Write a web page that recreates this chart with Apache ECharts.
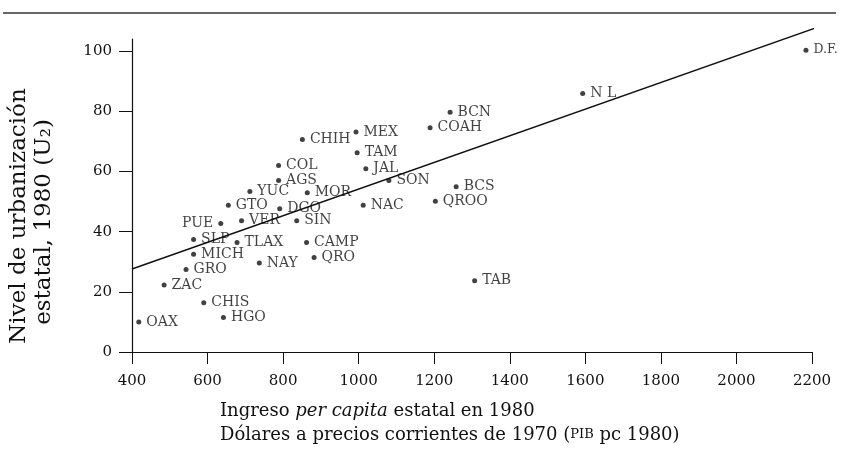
<!DOCTYPE html>
<html>
<head>
<meta charset="utf-8">
<script src="https://cdn.jsdelivr.net/npm/echarts@6/dist/echarts.min.js"></script>
<style>html,body{margin:0;padding:0;background:#fff;}#c{width:846px;height:464px;}</style>
</head>
<body>
<div id="c"></div>
<script>
var states = ['OAX','ZAC','CHIS','HGO','GRO','MICH','SLP','PUE','TLAX','VER','GTO','YUC','DGO','AGS','COL','MOR','SIN','NAY','CAMP','QRO','CHIH','MEX','TAM','JAL','SON','NAC','BCN','COAH','BCS','QROO','TAB','N L','D.F.'];
var income = [418,485,590,642,543,563,563,635,678,690,655,712,791,788,788,864,836,737,862,882,851,993,996,1019,1080,1012,1242,1189,1258,1203,1307,1593,2184];
var urban  = [10.0,22.3,16.4,11.5,27.4,32.5,37.4,42.7,36.4,43.6,48.8,53.3,47.6,57.0,62.0,52.9,43.6,29.6,36.4,31.4,70.6,73.1,66.2,60.9,57.0,48.8,79.7,74.5,54.9,50.1,23.7,85.9,100.3];
var trendX = [400, 2208];
var trendY = [27.6, 107.6];
var xTicks = [400,600,800,1000,1200,1400,1600,1800,2000,2200];
var yTicks = [0,20,40,60,80,100];

var FONT = 'DejaVu Serif';
var INK = '#111';

var scatterData = states.map(function (s, i) {
  var item = { name: s, value: [income[i], urban[i]] };
  if (s === 'D.F.') item.label = { fontSize: 12.5 };
  if (s === 'PUE') item.label = { position: 'left' };
  return item;
});
var trendData = trendX.map(function (x, i) { return [x, trendY[i]]; });

var chart = echarts.init(document.getElementById('c'), null, { renderer: 'canvas' });
chart.setOption({
  backgroundColor: '#fff',
  animation: false,
  grid: { left: 132, right: 34, top: 39, bottom: 112, containLabel: false },
  xAxis: {
    type: 'value', min: 400, max: 2200, interval: 200,
    splitLine: { show: false },
    axisLine: { lineStyle: { color: INK, width: 1.2 } },
    axisTick: { inside: false, length: 12, lineStyle: { color: INK, width: 1 } },
    axisLabel: { margin: 22, color: INK, fontFamily: FONT, fontSize: 15, customValues: xTicks,
      formatter: function (v) { return String(v); } },
  },
  yAxis: {
    type: 'value', min: 0, max: 104,
    splitLine: { show: false },
    axisLine: { show: true, lineStyle: { color: INK, width: 1.2 } },
    axisTick: { show: true, inside: false, length: 13, lineStyle: { color: INK, width: 1 }, customValues: yTicks },
    axisLabel: { margin: 20, color: INK, fontFamily: FONT, fontSize: 15, customValues: yTicks,
      formatter: function (v) { return String(v); } },
  },
  series: [
    {
      type: 'line', data: trendData, symbol: 'none', clip: false, silent: true,
      lineStyle: { color: INK, width: 1.5 }, z: 1
    },
    {
      type: 'scatter', data: scatterData, symbol: 'circle', symbolSize: 5,
      itemStyle: { color: INK }, clip: false, z: 3,
      label: {
        show: true, position: 'right', distance: 5,
        formatter: function (p) { return p.name; },
        color: INK, fontFamily: FONT, fontSize: 14
      }
    }
  ],
  graphic: [
    { type: 'line', shape: { x1: 3, y1: 13, x2: 836, y2: 13 }, style: { stroke: '#333', lineWidth: 1.5 }, silent: true },
    {
      type: 'text', x: 19, y: 216, rotation: Math.PI / 2, silent: true,
      style: { text: 'Nivel de urbanización', font: '23px "DejaVu Serif"', fill: INK, align: 'center', verticalAlign: 'middle' }
    },
    {
      type: 'text', x: 44, y: 222, rotation: Math.PI / 2, silent: true,
      style: { text: 'estatal, 1980 (U₂)', font: '23px "DejaVu Serif"', fill: INK, align: 'center', verticalAlign: 'middle' }
    },
    {
      type: 'text', x: 220, y: 411, silent: true,
      style: {
        text: '{n|Ingreso }{i|per capita}{n| estatal en 1980}',
        rich: {
          n: { fontFamily: FONT, fontSize: 18, fill: INK, color: INK },
          i: { fontFamily: FONT, fontSize: 18, fontStyle: 'italic', fill: INK, color: INK }
        },
        verticalAlign: 'middle'
      }
    },
    {
      type: 'text', x: 220, y: 435, silent: true,
      style: {
        text: '{n|Dólares a precios corrientes de 1970 (}{s|PIB}{n| pc 1980)}',
        rich: {
          n: { fontFamily: FONT, fontSize: 18, fill: INK, color: INK },
          s: { fontFamily: FONT, fontSize: 13, fill: INK, color: INK }
        },
        verticalAlign: 'middle'
      }
    }
  ]
});
</script>
</body>
</html>
